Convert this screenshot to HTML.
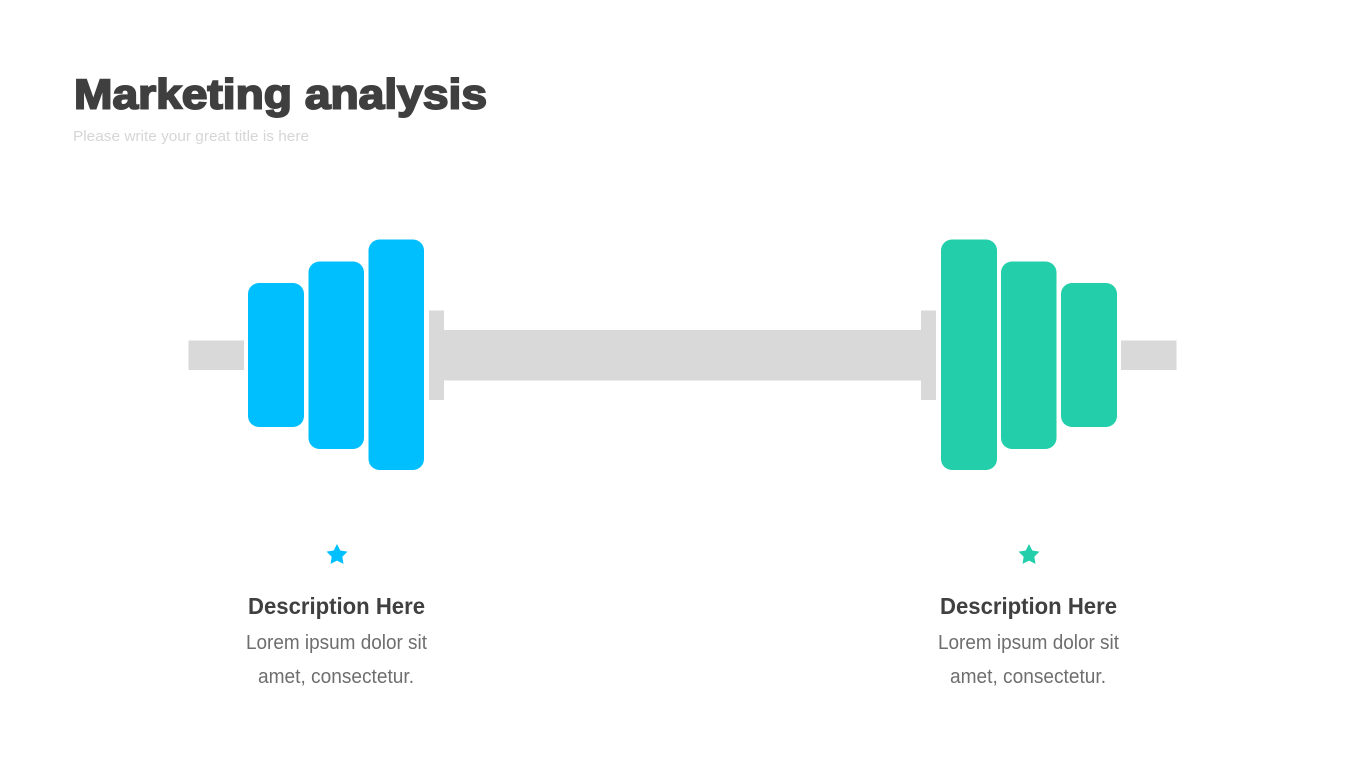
<!DOCTYPE html>
<html>
<head>
<meta charset="utf-8">
<style>
html,body{margin:0;padding:0;background:#fff;width:1365px;height:768px;overflow:hidden}
svg{display:block}
text{font-family:"Liberation Sans",Arial,sans-serif}
</style>
</head>
<body>
<svg width="1365" height="768" viewBox="0 0 1365 768" xmlns="http://www.w3.org/2000/svg">
<rect width="1365" height="768" fill="#fff"/>
<text x="74" y="108.500" font-size="42" font-weight="700" fill="#3f3f3f" stroke="#3f3f3f" stroke-width="1.900" stroke-linejoin="miter" textLength="413" lengthAdjust="spacingAndGlyphs">Marketing analysis</text>
<text x="73" y="141" font-size="15" fill="#d6d6d6" textLength="236" lengthAdjust="spacingAndGlyphs">Please write your great title is here</text>

<g fill="#d9d9d9">
<rect x="188.500" y="340.500" width="55.500" height="29.500"/>
<rect x="429" y="310.500" width="15" height="89.500"/>
<rect x="444" y="330" width="477" height="50.500"/>
<rect x="921" y="310.500" width="15" height="89.500"/>
<rect x="1121" y="340.500" width="55.500" height="29.500"/>
</g>

<g fill="#00bfff">
<rect x="248" y="283" width="56" height="144" rx="11"/>
<rect x="308.500" y="261.500" width="55.500" height="187.500" rx="11"/>
<rect x="368.500" y="239.500" width="55.500" height="230.500" rx="11"/>
<polygon points="337,544 340.290,550.470 347.460,551.600 342.330,556.730 343.470,563.900 337,560.600 330.530,563.900 331.670,556.730 326.540,551.600 333.710,550.470"/>
</g>

<g fill="#22cfaa">
<rect x="941" y="239.500" width="56" height="230.500" rx="11"/>
<rect x="1001" y="261.500" width="55.500" height="187.500" rx="11"/>
<rect x="1061" y="283" width="56" height="144" rx="11"/>
<polygon points="1029,544 1032.290,550.470 1039.460,551.600 1034.330,556.730 1035.470,563.900 1029,560.600 1022.530,563.900 1023.670,556.730 1018.540,551.600 1025.710,550.470"/>
</g>

<text x="248" y="614" font-size="23" font-weight="700" fill="#404040" textLength="177" lengthAdjust="spacingAndGlyphs">Description Here</text>
<text x="246" y="649" font-size="20" fill="#6e6e6e" textLength="181" lengthAdjust="spacingAndGlyphs">Lorem ipsum dolor sit</text>
<text x="258" y="683" font-size="20" fill="#6e6e6e" textLength="156" lengthAdjust="spacingAndGlyphs">amet, consectetur.</text>

<text x="940" y="614" font-size="23" font-weight="700" fill="#404040" textLength="177" lengthAdjust="spacingAndGlyphs">Description Here</text>
<text x="938" y="649" font-size="20" fill="#6e6e6e" textLength="181" lengthAdjust="spacingAndGlyphs">Lorem ipsum dolor sit</text>
<text x="950" y="683" font-size="20" fill="#6e6e6e" textLength="156" lengthAdjust="spacingAndGlyphs">amet, consectetur.</text>
</svg>
</body>
</html>
